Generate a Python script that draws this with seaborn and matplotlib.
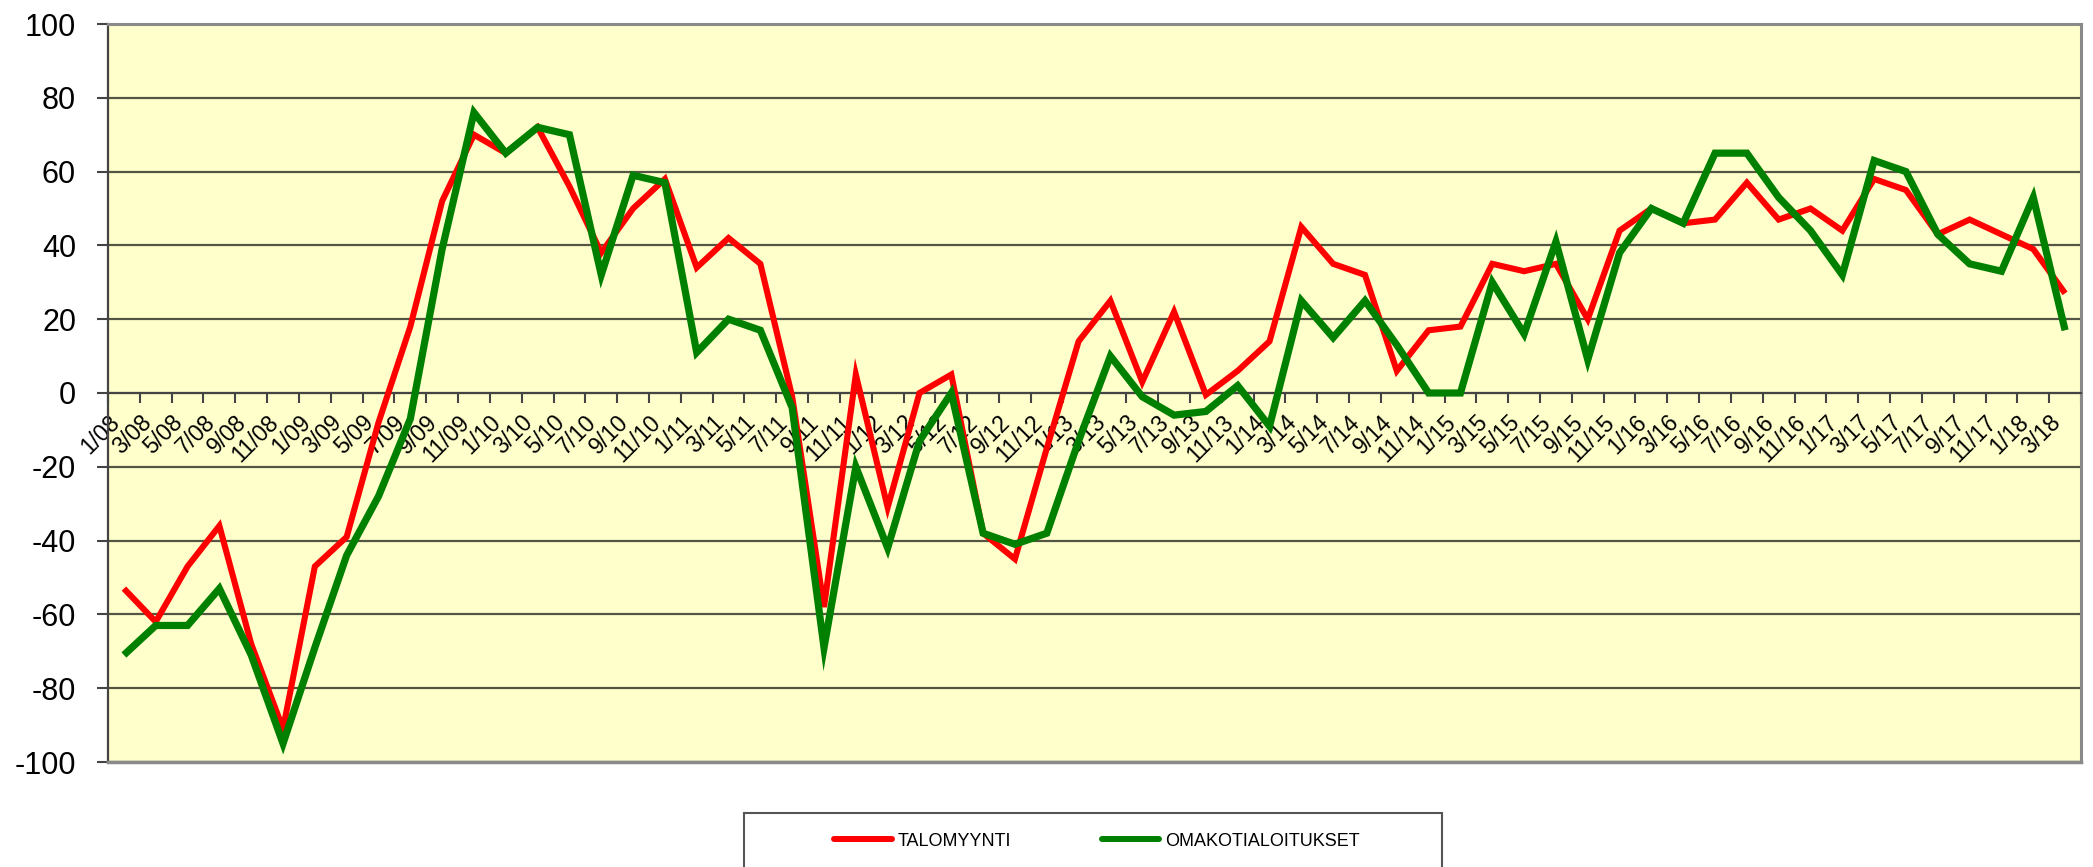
import matplotlib
matplotlib.use("Agg")
import matplotlib.pyplot as plt
import matplotlib.patches as mpatches
from matplotlib.lines import Line2D
import numpy as np
import pandas as pd
import seaborn as sns

plt.rcParams['font.family'] = ['Liberation Sans', 'DejaVu Sans']

months = ["1/08", "3/08", "5/08", "7/08", "9/08", "11/08",
          "1/09", "3/09", "5/09", "7/09", "9/09", "11/09",
          "1/10", "3/10", "5/10", "7/10", "9/10", "11/10",
          "1/11", "3/11", "5/11", "7/11", "9/11", "11/11",
          "1/12", "3/12", "5/12", "7/12", "9/12", "11/12",
          "1/13", "3/13", "5/13", "7/13", "9/13", "11/13",
          "1/14", "3/14", "5/14", "7/14", "9/14", "11/14",
          "1/15", "3/15", "5/15", "7/15", "9/15", "11/15",
          "1/16", "3/16", "5/16", "7/16", "9/16", "11/16",
          "1/17", "3/17", "5/17", "7/17", "9/17", "11/17",
          "1/18", "3/18"]

talomyynti = [-53, -62, -47, -36, -68, -91, -47, -39, -8, 18,
              52, 70, 65, 72, 56, 38, 50, 58, 34, 42,
              35, -1, -58, 5, -31, 0, 5, -38, -45, -15,
              14, 25, 3, 22, -0.5, 6, 14, 45, 35, 32,
              6, 17, 18, 35, 33, 35, 20, 44, 50, 46,
              47, 57, 47, 50, 44, 58, 55, 43, 47, 43,
              39, 27]

omakotialoitukset = [-71, -63, -63, -53, -71, -95, -69, -44, -28, -7,
                     39, 76, 65, 72, 70, 32, 59, 57, 11, 20,
                     17, -4, -69, -20, -42, -13, 0, -38, -41, -38,
                     -13, 10, -1, -6, -5, 2, -9, 25, 15, 25,
                     13, 0, 0, 30, 16, 41, 9, 38, 50, 46,
                     65, 65, 53, 44, 32, 63, 60, 43, 35, 33,
                     53, 17]

series_names = ["TALOMYYNTI", "OMAKOTIALOITUKSET"]
series_colors = ["#FF0000", "#008000"]
y_ticks = [-100, -80, -60, -40, -20, 0, 20, 40, 60, 80, 100]

n = len(months)
df = pd.DataFrame({
    "idx": list(range(n)) * 2,
    "value": talomyynti + omakotialoitukset,
    "series": [series_names[0]] * n + [series_names[1]] * n,
})

W, H = 2093, 867
fig = plt.figure(figsize=(W / 100, H / 100), dpi=100)
ax = fig.add_axes([108 / W, 1 - 762 / H, (2081 - 108) / W, (762 - 24) / H])
ax.set_facecolor("#FFFFCC")

sns.lineplot(data=df, x="idx", y="value", hue="series",
             palette=dict(zip(series_names, series_colors)),
             hue_order=series_names, legend=False, ax=ax, sort=False)
lines = ax.get_lines()
lines[0].set_linewidth(4.4)
lines[1].set_linewidth(5.2)
lines[1].set_zorder(4)
lines[0].set_zorder(3)
for ln in lines:
    ln.set_solid_joinstyle("miter")
    ln.set_solid_capstyle("butt")

ax.set_xlim(-0.5, n - 0.5)
ax.set_ylim(-100, 100)
ax.set_xlabel("")
ax.set_ylabel("")

# y axis
ax.set_yticks(y_ticks)
ax.set_yticklabels([str(v) for v in y_ticks], fontsize=22)
ax.tick_params(axis="y", direction="out", length=8, width=1.5, color="#444444", pad=15)
ax.yaxis.grid(True, color="#555544", linewidth=1.6)
ax.set_axisbelow(True)

# x axis at zero
ax.spines["bottom"].set_position(("data", 0))
ax.spines["bottom"].set_color("#444444")
ax.spines["bottom"].set_linewidth(1.5)
ax.set_xticks(np.arange(n))
ax.set_xticklabels(months, rotation=45, ha="right", fontsize=16.5)
ax.tick_params(axis="x", which="major", length=0, pad=13)
ax.set_xticks(np.arange(n + 1) - 0.5, minor=True)
ax.tick_params(axis="x", which="minor", direction="out", length=7, width=1.5, color="#444444")

ax.spines["left"].set_color("#444444")
ax.spines["left"].set_linewidth(1.6)
for s in ["top", "right"]:
    ax.spines[s].set_color("#8a8a8a")
    ax.spines[s].set_linewidth(2.2)
ax.axhline(-100, color="#8a8a8a", linewidth=2.5, clip_on=False, zorder=5)

# legend
handles = [Line2D([0], [0], color=c, linewidth=4.3, solid_capstyle="round") for c in series_colors]
fig.legend(handles, series_names, loc="center", bbox_to_anchor=(1097 / W, 1 - 841 / H),
           ncol=2, frameon=False, fontsize=13, handlelength=3.2, handletextpad=0.33,
           columnspacing=5.0)
rect = mpatches.Rectangle((744 / W, -0.1), (1442 - 744) / W, 0.1 + (867 - 813) / H,
                          transform=fig.transFigure, fill=False, edgecolor="#555555",
                          linewidth=1.5)
fig.add_artist(rect)

fig.savefig("out.png", dpi=100, facecolor="white")
